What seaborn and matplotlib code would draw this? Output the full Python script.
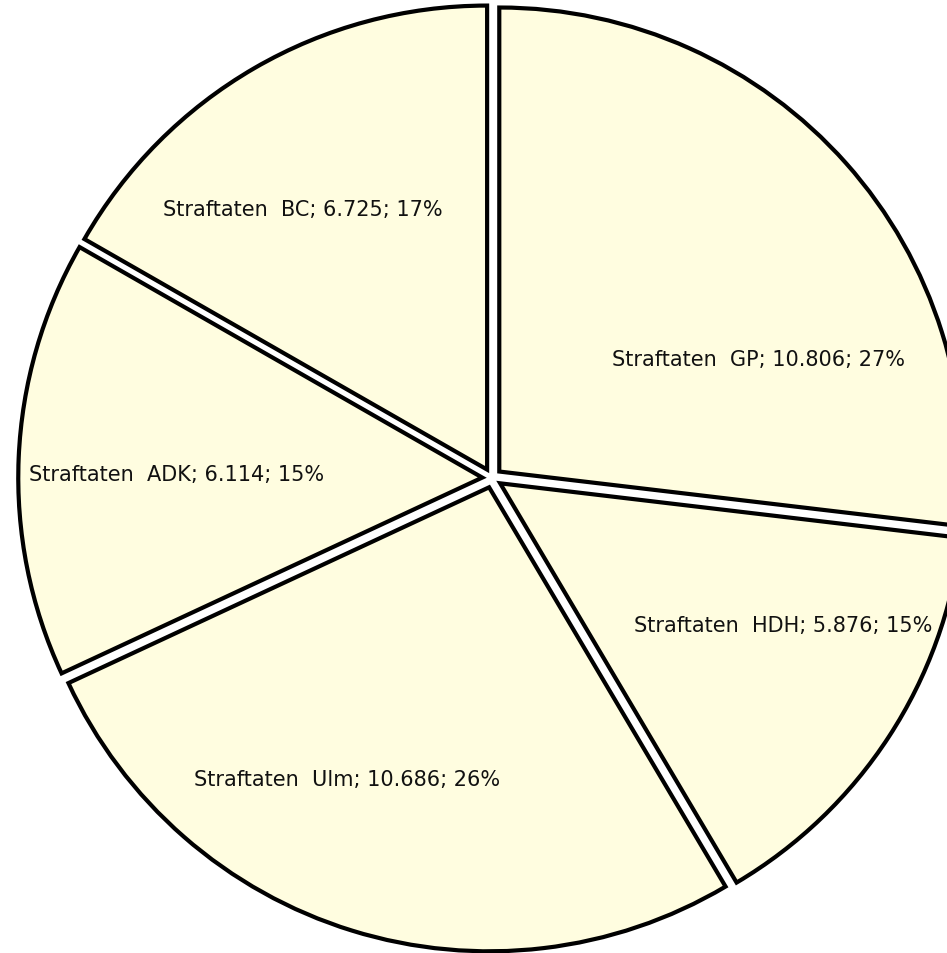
import matplotlib
matplotlib.use("Agg")
import matplotlib.pyplot as plt
import seaborn as sns

# Data (clockwise from 12 o'clock)
categories = ["GP", "HDH", "Ulm", "ADK", "BC"]
values = [10806, 5876, 10686, 6114, 6725]
percent_labels = [27, 15, 26, 15, 17]

# Layout (label centres, in pie-radius units relative to pie centre)
label_pos = [(0.575, 0.256), (0.627, -0.317), (-0.3125, -0.649), (-0.679, 0.009), (-0.407, 0.580)]

sns.set_theme(style="white")
plt.rcParams["font.family"] = ["DejaVu Sans"]

fill = "#FFFDE0"
W, H = 947, 954
cx, cy_top, R = 492, 479, 464

fig = plt.figure(figsize=(W / 100, H / 100), dpi=100)
fig.patch.set_facecolor("white")
ax = fig.add_axes([0, 0, 1, 1])

wedges, _ = ax.pie(
    values,
    startangle=90,
    counterclock=False,
    explode=[0.021] * len(values),
    colors=[fill] * len(values),
    wedgeprops=dict(edgecolor="black", linewidth=3, joinstyle="miter"),
    radius=1.0,
    center=(0, 0),
)

def fmt(v):
    return f"{v:,}".replace(",", ".")

for name, v, p, (lx, ly) in zip(categories, values, percent_labels, label_pos):
    ax.text(lx, ly, f"Straftaten  {name}; {fmt(v)}; {p}%", ha="center", va="center",
            fontsize=15, color="#111111")

ax.set_xlim(-cx / R, (W - cx) / R)
ax.set_ylim(-(H - cy_top) / R, cy_top / R)
ax.set_aspect("auto")
ax.axis("off")

fig.savefig("out.png", dpi=100, facecolor="white")
